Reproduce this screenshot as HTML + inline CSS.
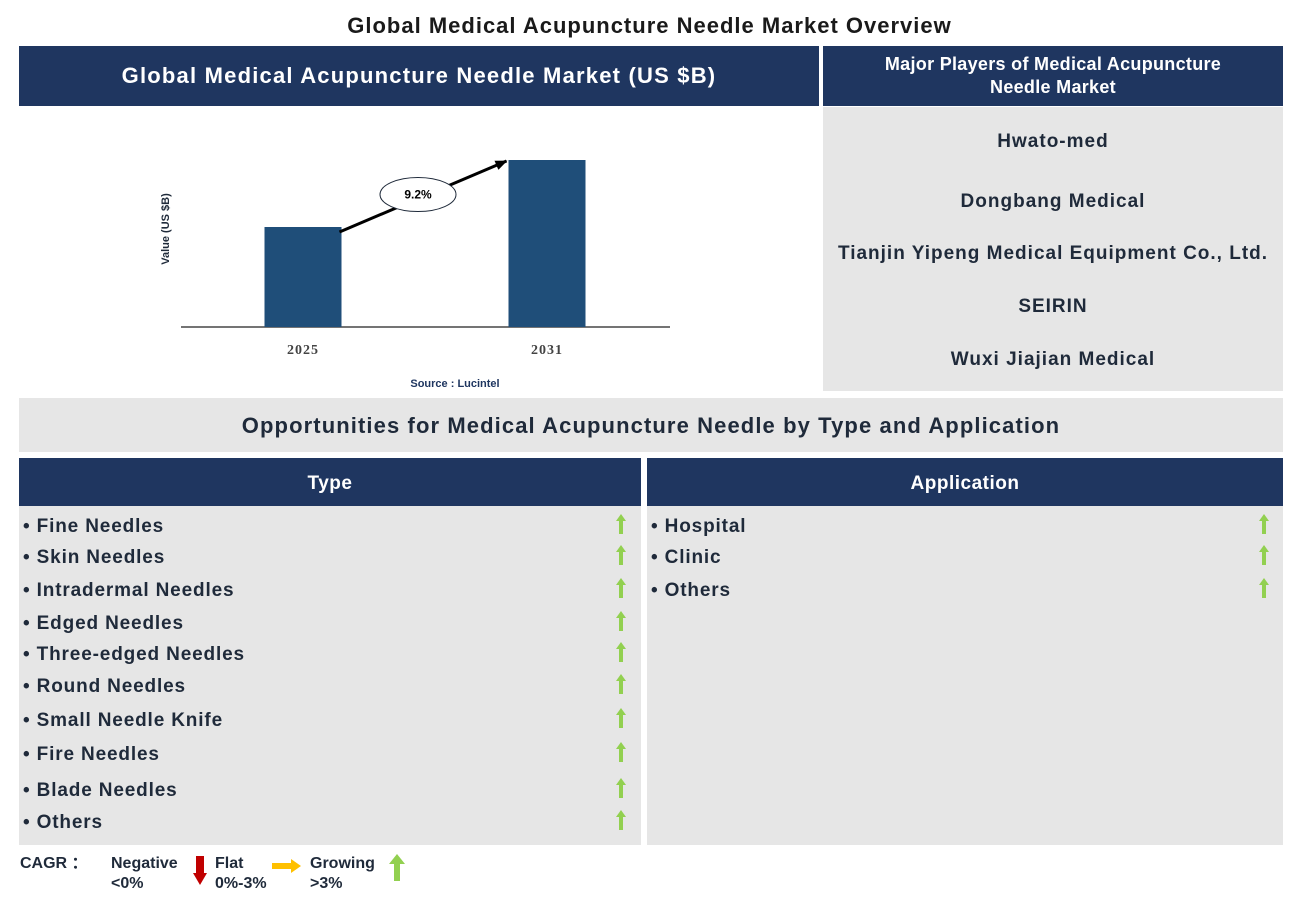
<!DOCTYPE html>
<html><head><meta charset="utf-8"><style>
*{margin:0;padding:0;box-sizing:border-box}
body{width:1299px;height:897px;background:#fff;font-family:"Liberation Sans",Arial,sans-serif;position:relative;overflow:hidden;color:#1f2a3a}
.abs{position:absolute}
.hdr{background:#1f3660;color:#fff;font-weight:bold;display:flex;align-items:center;justify-content:center;text-align:center}
.gray{background:#e6e6e6}
.item{position:absolute;font-size:19px;font-weight:bold;color:#1f2a3a;transform:translateY(-50%);letter-spacing:0.85px}
.up{position:absolute;width:10px;height:20px;transform:translateY(-50%)}
.pl{position:absolute;left:0;width:460px;text-align:center;font-size:19px;font-weight:bold;transform:translateY(-50%);letter-spacing:1px}
</style></head><body>
<div class="abs" style="left:0;width:1299px;top:13px;text-align:center;font-size:22px;font-weight:bold;color:#1a1a1a;letter-spacing:1px">Global Medical Acupuncture Needle Market Overview</div>
<div class="abs hdr" style="left:19px;top:46px;width:800px;height:60px;font-size:22px;letter-spacing:1.2px">Global Medical Acupuncture Needle Market (US $B)</div>
<div class="abs hdr" style="left:823px;top:46px;width:460px;height:60px;font-size:18px;line-height:23px;letter-spacing:0.3px">Major Players of Medical Acupuncture<br>Needle Market</div>
<div class="abs gray" style="left:823px;top:107px;width:460px;height:284px">
<div class="pl" style="top:35px">Hwato-med</div>
<div class="pl" style="top:95px">Dongbang Medical</div>
<div class="pl" style="top:147px">Tianjin Yipeng Medical Equipment Co., Ltd.</div>
<div class="pl" style="top:200px">SEIRIN</div>
<div class="pl" style="top:253px">Wuxi Jiajian Medical</div>
</div>
<svg class="abs" style="left:0;top:107px" width="820" height="290" id="chart"></svg>
<div class="abs gray" style="left:19px;top:398px;width:1264px;height:54px;display:flex;align-items:center;justify-content:center;font-size:22px;font-weight:bold;letter-spacing:1.1px;padding-top:2px">Opportunities for Medical Acupuncture Needle by Type and Application</div>
<div class="abs hdr" style="left:19px;top:458px;width:622px;height:48px;font-size:19px;padding-top:3px;letter-spacing:0.5px">Type</div>
<div class="abs hdr" style="left:647px;top:458px;width:636px;height:48px;font-size:19px;padding-top:3px;letter-spacing:0.5px">Application</div>
<div class="abs gray" style="left:19px;top:506px;width:622px;height:339px"></div>
<div class="abs gray" style="left:647px;top:506px;width:636px;height:339px"></div>
<div id="lists"></div>
<div class="abs" style="left:0;top:852px;width:420px;height:45px;font-size:16px;font-weight:bold;line-height:20px">
<div class="abs" style="left:20px;top:2px">CAGR ：</div>
<div class="abs" style="left:111px;top:2px">Negative<br>&lt;0%</div>
<svg class="abs" style="left:193px;top:4px" width="14" height="30"><rect x="3" y="0" width="8" height="18" fill="#c00000"/><polygon points="0,17 14,17 7,29" fill="#c00000"/></svg>
<div class="abs" style="left:215px;top:2px">Flat<br>0%-3%</div>
<svg class="abs" style="left:272px;top:7px" width="30" height="14"><rect x="0" y="4" width="20" height="6" fill="#ffc000"/><polygon points="19,0 29,7 19,14" fill="#ffc000"/></svg>
<div class="abs" style="left:310px;top:2px">Growing<br>&gt;3%</div>
<svg class="abs" style="left:389px;top:2px" width="16" height="28"><polygon points="8,0 16,10 0,10" fill="#92d050"/><rect x="5" y="9" width="6" height="18" fill="#92d050"/></svg>
</div>
<script>
const years=["2025","2031"];
const values=[1.0,1.67];
const cagrLabel="9.2%";
const types=["Fine Needles","Skin Needles","Intradermal Needles","Edged Needles","Three-edged Needles","Round Needles","Small Needle Knife","Fire Needles","Blade Needles","Others"];
const typeY=[527,558,591,624,655,687,721,755,791,823];
const apps=["Hospital","Clinic","Others"];
const appY=[527,558,591];
const NS="http://www.w3.org/2000/svg";
const svg=document.getElementById('chart');
function mk(t,a){const e=document.createElementNS(NS,t);for(const k in a)e.setAttribute(k,a[k]);svg.appendChild(e);return e;}
const base=220, maxV=1.67, plotH=167;
const y=v=>base-v/maxV*plotH;
const xc=i=>303+i*244;
const bw=77;
mk('line',{x1:181,y1:base,x2:670,y2:base,stroke:'#222','stroke-width':1.2});
mk('defs',{}).innerHTML='<marker id="ah" markerUnits="userSpaceOnUse" markerWidth="12" markerHeight="10" refX="11" refY="5" orient="auto"><path d="M0,0 L12,5 L0,10 z" fill="#000"/></marker>';
const tops=[];
values.forEach((v,i)=>{
 const r=mk('rect',{x:xc(i)-bw/2,y:y(v),width:bw,height:base-y(v),fill:'#1f4e79'});
 
 
 tops.push([xc(i),y(v)]);
 const t=mk('text',{x:xc(i),y:base+27,'text-anchor':'middle','font-family':'Liberation Serif,serif','font-weight':'bold','font-size':14,fill:'#444','letter-spacing':'1'});
 t.textContent=years[i];
 
 
});
const x1=tops[0][0]+bw/2-2,y1=tops[0][1]+5,x2=tops[1][0]-bw/2-2,y2=tops[1][1]+1;
const ar=mk('line',{x1:x1,y1:y1,x2:x2,y2:y2,stroke:'#000','stroke-width':3,'marker-end':'url(#ah)'});


const mx=(x1+x2)/2-5,my=(y1+y2)/2-2;
const el=mk('ellipse',{cx:mx,cy:my,rx:38,ry:17,fill:'#fff',stroke:'#1f2a3a','stroke-width':1});


const ct=mk('text',{x:mx,y:my+4,'text-anchor':'middle','font-size':12,'font-weight':'bold',fill:'#000'});
ct.textContent=cagrLabel;
const yl=mk('text',{transform:'translate(169,122) rotate(-90)','text-anchor':'middle','font-size':11,'font-weight':'bold',fill:'#1f2a3a'});
yl.textContent='Value (US $B)';


const src=mk('text',{x:455,y:280,'text-anchor':'middle','font-size':11,'font-weight':'bold',fill:'#1f3660'});
src.textContent='Source : Lucintel';


const L=document.getElementById('lists');
function addList(arr,ys,x,ax,prefix){
 arr.forEach((s,i)=>{
  const d=document.createElement('div');d.className='item';d.style.left=x+'px';d.style.top=ys[i]+'px';d.textContent='• '+s;
  
  
  L.appendChild(d);
  const a=document.createElementNS(NS,'svg');a.setAttribute('class','up');a.setAttribute('width','10');a.setAttribute('height','22');
  a.style.left=ax+'px';a.style.top=(ys[i]-3)+'px';
  a.innerHTML='<polygon points="5,0 10,7 0,7" fill="#92d050"/><rect x="3" y="6" width="4" height="15" fill="#92d050"/>';
  
  
  L.appendChild(a);
 });
}
addList(types,typeY,23,616,'type');
addList(apps,appY,651,1259,'application');
</script>
</body></html>
